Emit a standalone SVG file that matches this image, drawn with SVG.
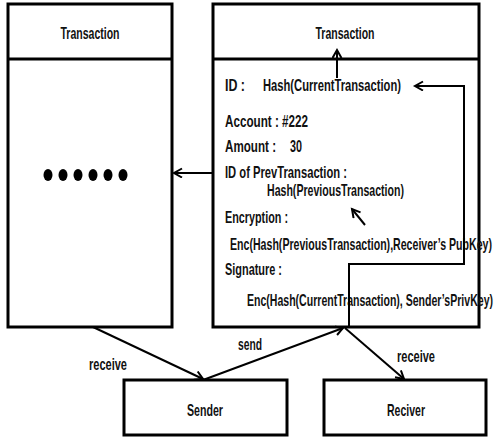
<svg xmlns="http://www.w3.org/2000/svg" width="495" height="437" viewBox="0 0 495 437">
  <style>
    .box { fill: #fff; stroke: #000; stroke-width: 3; }
    .div { stroke: #000; stroke-width: 3; }
    .wire { fill: none; stroke: #000; stroke-width: 2; }
    text { font-family: "Liberation Sans", Arial, sans-serif; fill: #111; font-weight: bold; }
    .hdr { font-size: 17px; text-anchor: middle; }
    .fld { font-size: 17px; }
    .lbl { font-size: 17px; }
  </style>
  <defs>
    <marker id="arrow" markerUnits="userSpaceOnUse" markerWidth="12" markerHeight="12" refX="9" refY="5" orient="auto">
      <path d="M1,0.5 L9,5 L1,9.5" fill="none" stroke="#000" stroke-width="2"/>
    </marker>
  </defs>
  <rect width="495" height="437" fill="#fff"/>

  <!-- previous transaction block -->
  <g id="prev-transaction">
    <rect class="box" x="8" y="4" width="164" height="323"/>
    <line class="div" x1="8" y1="59" x2="172" y2="59"/>
    <text class="hdr" x="90" y="39" textLength="59" lengthAdjust="spacingAndGlyphs">Transaction</text>
    <g fill="#000">
      <ellipse cx="48" cy="175" rx="4.5" ry="6"/>
      <ellipse cx="63" cy="175" rx="4.5" ry="6"/>
      <ellipse cx="78" cy="175" rx="4.5" ry="6"/>
      <ellipse cx="93" cy="175" rx="4.5" ry="6"/>
      <ellipse cx="108" cy="175" rx="4.5" ry="6"/>
      <ellipse cx="123" cy="175" rx="4.5" ry="6"/>
    </g>
  </g>

  <!-- current transaction block -->
  <g id="current-transaction">
    <rect class="box" x="213" y="4" width="266" height="323"/>
    <line class="div" x1="213" y1="59" x2="479" y2="59"/>
    <text class="hdr" x="345" y="39" textLength="59" lengthAdjust="spacingAndGlyphs">Transaction</text>
    <text class="fld" x="225" y="91" textLength="20" lengthAdjust="spacingAndGlyphs">ID :</text>
    <text class="fld" x="263" y="91" textLength="138" lengthAdjust="spacingAndGlyphs">Hash(CurrentTransaction)</text>
    <text class="fld" x="225" y="127" textLength="83" lengthAdjust="spacingAndGlyphs">Account : #222</text>
    <text class="fld" x="225" y="152"><tspan textLength="51" lengthAdjust="spacingAndGlyphs">Amount :</tspan><tspan x="290" textLength="12" lengthAdjust="spacingAndGlyphs">30</tspan></text>
    <text class="fld" x="225" y="178" textLength="122" lengthAdjust="spacingAndGlyphs">ID of PrevTransaction :</text>
    <text class="fld" x="267" y="196" textLength="137" lengthAdjust="spacingAndGlyphs">Hash(PreviousTransaction)</text>
    <text class="fld" x="225" y="223" textLength="63" lengthAdjust="spacingAndGlyphs">Encryption :</text>
    <text class="fld" x="230" y="250" textLength="262" lengthAdjust="spacingAndGlyphs">Enc(Hash(PreviousTransaction),Receiver’s PubKey)</text>
    <text class="fld" x="225" y="275" textLength="57" lengthAdjust="spacingAndGlyphs">Signature :</text>
    <text class="fld" x="247" y="306" textLength="246" lengthAdjust="spacingAndGlyphs">Enc(Hash(CurrentTransaction), Sender’sPrivKey)</text>
  </g>

  <g id="sender">
    <rect class="box" x="124" y="380" width="163" height="55"/>
    <text class="lbl" x="205" y="416" text-anchor="middle" textLength="36" lengthAdjust="spacingAndGlyphs">Sender</text>
  </g>

  <g id="receiver">
    <rect class="box" x="324" y="380" width="162" height="55"/>
    <text class="lbl" x="406" y="416" text-anchor="middle" textLength="38" lengthAdjust="spacingAndGlyphs">Reciver</text>
  </g>

  <!-- connectors -->
  <g id="connectors">
    <line class="wire" x1="213" y1="173" x2="174" y2="173" marker-end="url(#arrow)"/>
    <line class="wire" x1="337" y1="78" x2="337" y2="50" marker-end="url(#arrow)"/>
    <polyline class="wire" points="349,327 349,264 464,264 464,86 415,86" marker-end="url(#arrow)"/>
    <line class="wire" x1="365" y1="225" x2="352" y2="209" marker-end="url(#arrow)"/>
    <line class="wire" x1="93" y1="327" x2="203" y2="379" marker-end="url(#arrow)"/>
    <line class="wire" x1="203" y1="380" x2="343" y2="328" marker-end="url(#arrow)"/>
    <line class="wire" x1="345" y1="328" x2="404" y2="379" marker-end="url(#arrow)"/>
    <text class="lbl" x="89" y="370" textLength="38" lengthAdjust="spacingAndGlyphs">receive</text>
    <text class="lbl" x="238" y="350" textLength="24" lengthAdjust="spacingAndGlyphs">send</text>
    <text class="lbl" x="397" y="362" textLength="38" lengthAdjust="spacingAndGlyphs">receive</text>
  </g>
</svg>
